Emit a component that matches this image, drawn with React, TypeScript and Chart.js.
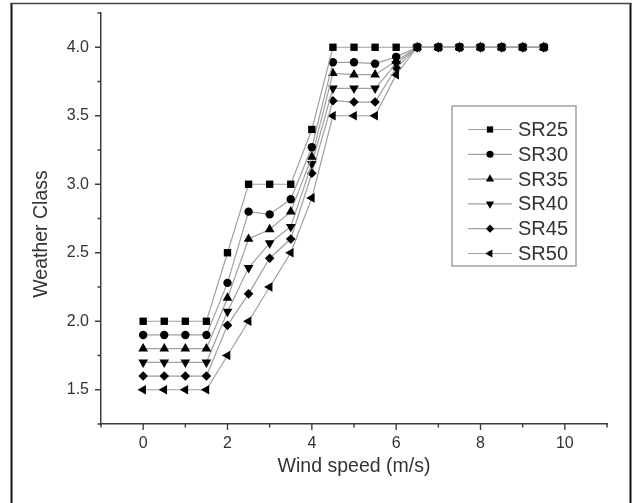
import React, { useEffect, useRef } from 'react';
import { Chart, registerables } from 'chart.js';

Chart.register(...registerables);

const windSpeed = [0, 0.5, 1, 1.5, 2, 2.5, 3, 3.5, 4, 4.5, 5, 5.5, 6, 6.5, 7, 7.5, 8, 8.5, 9, 9.5];
const sr25 = [2, 2, 2, 2, 2.5, 3, 3, 3, 3.4, 4, 4, 4, 4, 4, 4, 4, 4, 4, 4, 4];
const sr30 = [1.9, 1.9, 1.9, 1.9, 2.28, 2.8, 2.78, 2.89, 3.27, 3.89, 3.89, 3.88, 3.93, 4, 4, 4, 4, 4, 4, 4];
const sr35 = [1.8, 1.8, 1.8, 1.8, 2.17, 2.6, 2.67, 2.8, 3.2, 3.81, 3.8, 3.8, 3.9, 4, 4, 4, 4, 4, 4, 4];
const sr40 = [1.7, 1.7, 1.7, 1.7, 2.07, 2.39, 2.57, 2.69, 3.15, 3.7, 3.7, 3.7, 3.88, 4, 4, 4, 4, 4, 4, 4];
const sr45 = [1.6, 1.6, 1.6, 1.6, 1.97, 2.2, 2.46, 2.6, 3.08, 3.61, 3.6, 3.6, 3.85, 4, 4, 4, 4, 4, 4, 4];
const sr50 = [1.5, 1.5, 1.5, 1.5, 1.75, 2.0, 2.25, 2.5, 2.9, 3.5, 3.5, 3.5, 3.8, 4, 4, 4, 4, 4, 4, 4];

const seriesLabels = ['SR25', 'SR30', 'SR35', 'SR40', 'SR45', 'SR50'];
const seriesValues = [sr25, sr30, sr35, sr40, sr45, sr50];
const seriesStyles: any[] = ['rect', 'circle', 'triangle', 'triangle', 'rectRot', 'triangle'];
const seriesRotations = [0, 0, 0, 180, 0, 270];
const seriesRadius = [5.2, 4.2, 5.6, 5.6, 4.8, 5.6];

const xTitle = 'Wind speed (m/s)';
const yTitle = 'Weather Class';

const FONT = '"Liberation Sans", Arial, sans-serif';
const LINE_GRAY = '#a0a0a0';
const AXIS_COLOR = '#3c3c3c';
const TEXT_COLOR = '#333333';

function drawMarker(ctx: CanvasRenderingContext2D, style: string, rotation: number, r: number, x: number, y: number) {
  ctx.beginPath();
  if (style === 'rect') {
    const s = Math.SQRT1_2 * r;
    ctx.rect(x - s, y - s, 2 * s, 2 * s);
  } else if (style === 'circle') {
    ctx.arc(x, y, r, 0, Math.PI * 2);
  } else if (style === 'rectRot') {
    ctx.moveTo(x - r, y);
    ctx.lineTo(x, y - r);
    ctx.lineTo(x + r, y);
    ctx.lineTo(x, y + r);
  } else {
    let rad = (rotation * Math.PI) / 180;
    ctx.moveTo(x + Math.sin(rad) * r, y - Math.cos(rad) * r);
    rad += (2 * Math.PI) / 3;
    ctx.lineTo(x + Math.sin(rad) * r, y - Math.cos(rad) * r);
    rad += (2 * Math.PI) / 3;
    ctx.lineTo(x + Math.sin(rad) * r, y - Math.cos(rad) * r);
  }
  ctx.closePath();
  ctx.fill();
}

const decorPlugin = {
  id: 'decor',
  beforeDraw(chart: any) {
    const ctx = chart.ctx as CanvasRenderingContext2D;
    ctx.save();
    ctx.fillStyle = '#ffffff';
    ctx.fillRect(0, 0, chart.width, chart.height);
    // outer frame
    ctx.strokeStyle = '#111';
    ctx.lineWidth = 2;
    ctx.beginPath();
    ctx.moveTo(11.5, 3);
    ctx.lineTo(11.5, chart.height);
    ctx.moveTo(630.5, 3);
    ctx.lineTo(630.5, chart.height);
    ctx.stroke();
    ctx.strokeStyle = '#444';
    ctx.lineWidth = 1.5;
    ctx.beginPath();
    ctx.moveTo(10.5, 3.5);
    ctx.lineTo(631.5, 3.5);
    ctx.stroke();
    ctx.restore();
  },
  afterDraw(chart: any) {
    const ctx = chart.ctx as CanvasRenderingContext2D;
    const xs = chart.scales.x;
    const ys = chart.scales.y;
    const area = chart.chartArea;
    ctx.save();
    // tick marks
    ctx.strokeStyle = AXIS_COLOR;
    ctx.lineWidth = 1.4;
    ctx.beginPath();
    ys.ticks.forEach((t: any) => {
      const major = Math.abs(t.value * 2 - Math.round(t.value * 2)) < 1e-6;
      const py = ys.getPixelForValue(t.value);
      ctx.moveTo(area.left, py);
      ctx.lineTo(area.left - (major ? 6 : 3.5), py);
    });
    xs.ticks.forEach((t: any) => {
      const major = Math.round(t.value) % 2 === 0;
      const px = xs.getPixelForValue(t.value);
      ctx.moveTo(px, area.bottom);
      ctx.lineTo(px, area.bottom + (major ? 6 : 3.5));
    });
    ctx.stroke();

    // axis titles
    ctx.fillStyle = TEXT_COLOR;
    ctx.font = `19.5px ${FONT}`;
    ctx.textAlign = 'center';
    ctx.textBaseline = 'middle';
    ctx.fillText(xTitle, (area.left + area.right) / 2, 467);
    ctx.save();
    ctx.translate(42, 234);
    ctx.rotate(-Math.PI / 2);
    ctx.fillText(yTitle, 0, 0);
    ctx.restore();

    // legend
    const bx = 452, by = 106, bw = 124, bh = 160;
    ctx.strokeStyle = '#a0a0a0';
    ctx.lineWidth = 1.5;
    ctx.strokeRect(bx, by, bw, bh);
    chart.data.datasets.forEach((ds: any, i: number) => {
      const y = 129.5 + i * 24.8;
      ctx.strokeStyle = LINE_GRAY;
      ctx.lineWidth = 1.2;
      ctx.beginPath();
      ctx.moveTo(468, y);
      ctx.lineTo(512, y);
      ctx.stroke();
      ctx.fillStyle = '#000';
      drawMarker(ctx, ds.pointStyle, ds.pointRotation, ds.pointRadius * 0.85, 490, y);
      ctx.fillStyle = TEXT_COLOR;
      ctx.font = `20px ${FONT}`;
      ctx.textAlign = 'left';
      ctx.textBaseline = 'middle';
      ctx.fillText(ds.label, 518, y + 1);
    });
    ctx.restore();
  },
};

export default function App() {
  const ref = useRef<HTMLCanvasElement>(null);

  useEffect(() => {
    if (!ref.current) return;
    const datasets = seriesLabels.map((label, i) => ({
      label,
      data: windSpeed.map((x, j) => ({ x, y: seriesValues[i][j] })),
      borderColor: LINE_GRAY,
      borderWidth: 1.2,
      backgroundColor: '#000',
      pointBackgroundColor: '#000',
      pointBorderColor: '#000',
      pointBorderWidth: 0,
      pointStyle: seriesStyles[i],
      pointRotation: seriesRotations[i],
      pointRadius: seriesRadius[i],
      tension: 0,
      fill: false,
    }));
    const chart = new Chart(ref.current, {
      type: 'line',
      data: { datasets },
      options: {
        animation: false,
        responsive: false,
        maintainAspectRatio: false,
        layout: { padding: { left: 0, top: 13, right: 25, bottom: 0 } },
        plugins: {
          legend: { display: false },
          tooltip: { enabled: false },
          title: { display: false },
        },
        scales: {
          x: {
            type: 'linear',
            min: -1,
            max: 11,
            afterFit: (s: any) => { s.height = 79; s.paddingLeft = 0; s.paddingRight = 0; },
            grid: { display: false, drawTicks: false, tickLength: 0 },
            border: { display: true, color: AXIS_COLOR, width: 1.5 },
            ticks: {
              stepSize: 1,
              autoSkip: false,
              maxRotation: 0,
              padding: 10,
              color: TEXT_COLOR,
              font: { family: FONT, size: 16 },
              callback: (v: any) => (Math.round(v) % 2 === 0 ? String(v) : ''),
            },
          },
          y: {
            type: 'linear',
            min: 1.25,
            max: 4.25,
            afterFit: (s: any) => { s.width = 101; s.paddingTop = 0; s.paddingBottom = 0; },
            grid: { display: false, drawTicks: false, tickLength: 0 },
            border: { display: true, color: AXIS_COLOR, width: 1.5 },
            ticks: {
              stepSize: 0.25,
              autoSkip: false,
              padding: 12,
              color: TEXT_COLOR,
              font: { family: FONT, size: 16 },
              callback: (v: any) =>
                Math.abs(v * 2 - Math.round(v * 2)) < 1e-6 ? Number(v).toFixed(1) : '',
            },
          },
        },
      },
      plugins: [decorPlugin],
    });
    return () => chart.destroy();
  }, []);

  return (
    <div style={{ position: 'fixed', left: 0, top: 0, width: 632, height: 503, background: '#fff' }}>
      <canvas ref={ref} width={632} height={503} style={{ width: 632, height: 503, display: 'block' }} />
    </div>
  );
}
